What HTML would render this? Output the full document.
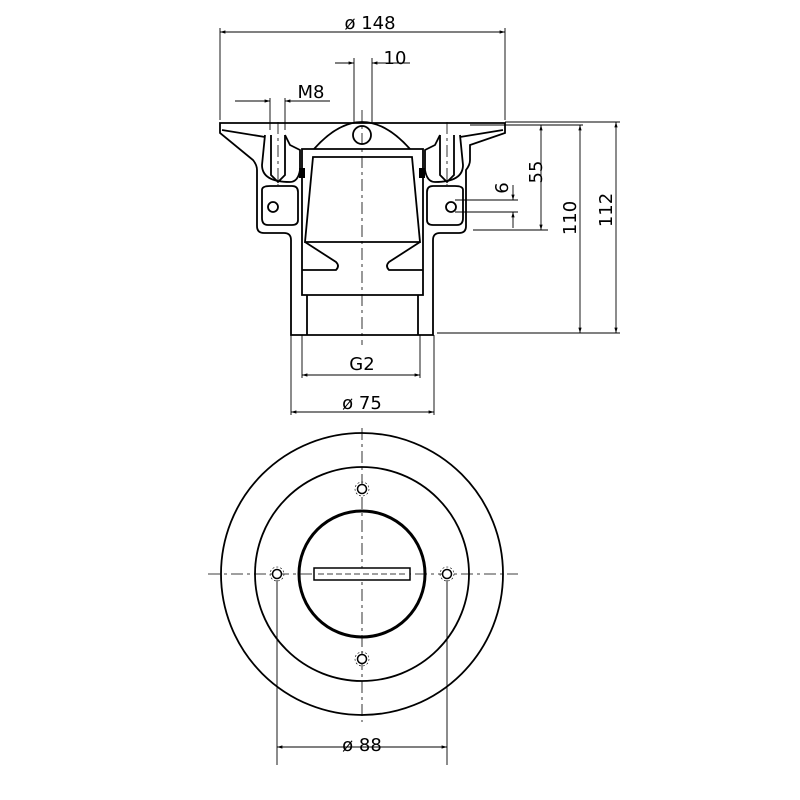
<!DOCTYPE html>
<html><head><style>body{margin:0;background:#fff}svg{display:block}</style></head><body>
<svg width="800" height="800" viewBox="0 0 800 800" xmlns="http://www.w3.org/2000/svg" font-family="DejaVu Sans, Liberation Sans, sans-serif">
<defs>
<marker id="a" viewBox="0 0 10 10" refX="10" refY="5" markerWidth="8" markerHeight="6" orient="auto-start-reverse"><path d="M0,2 L10,5 L0,8 z" fill="#000"/></marker>
</defs>
<g stroke="#000" fill="none" stroke-width="0.9">
<line x1="220" y1="28" x2="220" y2="120"/><line x1="505" y1="28" x2="505" y2="120"/>
<line x1="354" y1="58" x2="354" y2="122"/><line x1="372" y1="58" x2="372" y2="122"/>
<line x1="270" y1="98" x2="270" y2="130"/><line x1="285" y1="98" x2="285" y2="130"/>
<line x1="505" y1="122" x2="620" y2="122"/><line x1="470" y1="125" x2="583" y2="125"/>
<line x1="473" y1="230" x2="548" y2="230"/><line x1="437" y1="333" x2="620" y2="333"/>
<line x1="455" y1="200" x2="518" y2="200"/><line x1="455" y1="212" x2="518" y2="212"/>
<line x1="291" y1="335" x2="291" y2="415"/><line x1="434" y1="335" x2="434" y2="415"/>
<line x1="302" y1="335" x2="302" y2="378"/><line x1="420" y1="335" x2="420" y2="378"/>
<line x1="277" y1="580" x2="277" y2="765"/><line x1="447" y1="580" x2="447" y2="765"/>
<line x1="220" y1="32" x2="505" y2="32" marker-start="url(#a)" marker-end="url(#a)"/>
<line x1="335" y1="63" x2="354" y2="63" marker-end="url(#a)"/><line x1="410" y1="63" x2="372" y2="63" marker-end="url(#a)"/>
<line x1="235" y1="101" x2="270" y2="101" marker-end="url(#a)"/><line x1="330" y1="101" x2="285" y2="101" marker-end="url(#a)"/>
<line x1="541" y1="125" x2="541" y2="230" marker-start="url(#a)" marker-end="url(#a)"/>
<line x1="580" y1="125" x2="580" y2="333" marker-start="url(#a)" marker-end="url(#a)"/>
<line x1="616" y1="122" x2="616" y2="333" marker-start="url(#a)" marker-end="url(#a)"/>
<line x1="513" y1="185" x2="513" y2="200" marker-end="url(#a)"/><line x1="513" y1="228" x2="513" y2="212" marker-end="url(#a)"/>
<line x1="302" y1="375" x2="420" y2="375" marker-start="url(#a)" marker-end="url(#a)"/>
<line x1="291" y1="412" x2="434" y2="412" marker-start="url(#a)" marker-end="url(#a)"/>
<line x1="277" y1="747" x2="447" y2="747" marker-start="url(#a)" marker-end="url(#a)"/>
</g>
<g fill="#000" font-size="18" text-anchor="middle">
<text x="370" y="29">ø 148</text>
<text x="395" y="64">10</text>
<text x="311" y="98">M8</text>
<text x="362" y="370">G2</text>
<text x="362" y="409">ø 75</text>
<text x="362" y="751">ø 88</text>
<text transform="translate(542,172) rotate(-90)">55</text>
<text transform="translate(508,188) rotate(-90)">6</text>
<text transform="translate(576,218) rotate(-90)">110</text>
<text transform="translate(612,210) rotate(-90)">112</text>
</g>
<g stroke="#000" fill="none" stroke-width="1.8">
<path d="M220,123 L505,123 L505,133 L470,145 L470,160 Q470,165 466,170 L466,226 Q466,233 459,233 L440,233 Q433,233 433,240 L433,335 L291,335 L291,240 Q291,233 284,233 L264,233 Q257,233 257,226 L257,170 Q257,165 253,160 L220,133 Z"/>
<path d="M222,130 L265,137"/><path d="M503,130 L460,137"/>
<path d="M265,135 L262,165 Q262,182 290,182 Q298,182 300,170 L300,150 L290,145 L285,135"/>
<path d="M460,135 L463,165 Q463,182 435,182 Q427,182 425,170 L425,150 L435,145 L440,135"/>
<path d="M271,135 L271,175 L278,182 L285,175 L285,135"/>
<path d="M454,135 L454,175 L447,182 L440,175 L440,135"/>
<path d="M262,190 Q262,186 270,186 L292,186 Q298,186 298,192 L298,220 Q298,225 292,225 L268,225 Q262,225 262,218 Z"/>
<path d="M463,190 Q463,186 455,186 L433,186 Q427,186 427,192 L427,220 Q427,225 433,225 L457,225 Q463,225 463,218 Z"/>
<path d="M314,149 Q362,95 410,149"/>
<circle cx="362" cy="135" r="9"/>
<path d="M302,149 L423,149 L423,295 L302,295 Z"/>
<path d="M313,157 L412,157 L420,242 L305,242 Z"/>
<path d="M305,242 L336,262 Q340,266 336,270 L302,270"/>
<path d="M420,242 L389,262 Q385,266 389,270 L423,270"/>
<line x1="307" y1="295" x2="307" y2="335"/><line x1="418" y1="295" x2="418" y2="335"/>
<circle cx="273" cy="207" r="5"/><circle cx="451" cy="207" r="5"/>
</g>
<rect x="299" y="168" width="6" height="10" fill="#000"/><rect x="419" y="168" width="6" height="10" fill="#000"/>
<g stroke="#000" stroke-width="0.8" stroke-dasharray="12,4,3,4">
<line x1="362" y1="110" x2="362" y2="345"/>
<line x1="278" y1="122" x2="278" y2="185"/><line x1="447" y1="122" x2="447" y2="185"/>
<line x1="208" y1="574" x2="518" y2="574"/><line x1="362" y1="428" x2="362" y2="722"/>
</g>
<g stroke="#000" fill="none">
<circle cx="362" cy="574" r="141" stroke-width="1.8"/>
<circle cx="362" cy="574" r="107" stroke-width="1.8"/>
<circle cx="362" cy="574" r="63" stroke-width="3"/>
<rect x="314" y="568" width="96" height="12" stroke-width="1.5" fill="#fff"/>
<line x1="318" y1="574" x2="406" y2="574" stroke-width="0.8" stroke-dasharray="6,3"/>
<g stroke-width="1.5" fill="#fff">
<circle cx="277" cy="574" r="4.5"/><circle cx="447" cy="574" r="4.5"/>
<circle cx="362" cy="489" r="4.5"/><circle cx="362" cy="659" r="4.5"/>
</g>
<g stroke-width="0.6" stroke-dasharray="2,2">
<circle cx="277" cy="574" r="7"/><circle cx="447" cy="574" r="7"/>
<circle cx="362" cy="489" r="7"/><circle cx="362" cy="659" r="7"/>
</g>
</g>
</svg>
</body></html>
